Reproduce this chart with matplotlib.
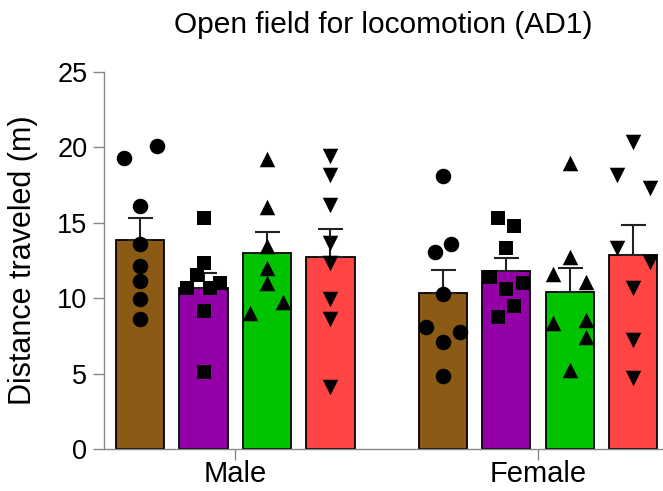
import numpy as np
import matplotlib
matplotlib.use("Agg")
import matplotlib.pyplot as plt

plt.rcParams['font.family'] = ['Liberation Sans', 'DejaVu Sans']

# Groups and bars
groups = ['Male', 'Female']
bar_colors = ['#8B5A14', '#9300A8', '#00C400', '#FF4444']
markers = ['o', 's', '^', 'v']

# bar heights (mean) and error (SEM) per group, in bar order
means = {
    'Male': [13.86, 10.68, 12.98, 12.71],
    'Female': [10.32, 11.80, 10.43, 12.86],
}
sems = {
    'Male': [1.48, 1.01, 1.43, 1.86],
    'Female': [1.55, 0.89, 1.55, 1.99],
}

# individual animals (m)
points = {
    'Male': [
        [19.32, 20.11, 16.13, 13.57, 12.16, 11.14, 9.93, 8.60],
        [15.30, 12.35, 11.54, 10.66, 10.66, 10.99, 9.15, 5.09],
        [19.21, 16.02, 13.46, 11.98, 11.03, 9.77, 9.00],
        [19.43, 18.17, 16.18, 13.68, 12.31, 9.95, 8.62, 4.13],
    ],
    'Female': [
        [18.13, 13.59, 13.08, 10.28, 8.11, 7.78, 7.07, 4.86],
        [15.30, 14.79, 13.31, 11.39, 10.59, 10.99, 9.48, 8.77],
        [18.94, 12.71, 11.60, 11.10, 8.38, 8.55, 7.45, 5.24],
        [20.38, 18.17, 17.29, 13.31, 12.42, 10.66, 7.23, 4.69],
    ],
}
# horizontal scatter of the dots inside each bar (fraction of bar pitch)
spread = {
    'Male': [
        [-0.26, 0.26, 0, 0, 0, 0, 0, 0],
        [0, 0, -0.1, -0.26, 0.1, 0.26, 0, 0],
        [0, 0, 0, 0, 0, 0.26, -0.26],
        [0, 0, 0, 0, 0, 0, 0, 0],
    ],
    'Female': [
        [0, 0.13, -0.13, 0, -0.26, 0.27, 0, 0],
        [-0.13, 0.13, 0, -0.26, 0, 0.26, 0.13, -0.13],
        [0, 0, -0.26, 0.26, -0.26, 0.26, 0.26, 0],
        [0, -0.26, 0.26, -0.26, 0.26, 0, 0, 0],
    ],
}

group_start = {'Male': 0.0, 'Female': 4.77}
bar_width = 0.76

fig = plt.figure(figsize=(6.63, 4.91), dpi=100)
ax = fig.add_axes([0.157, 0.0855, 0.843, 0.768])

for g in groups:
    for i in range(4):
        x = group_start[g] + i
        ax.bar(x, means[g][i], width=bar_width, color=bar_colors[i],
               edgecolor='black', linewidth=1.3, zorder=2)
        ax.errorbar(x, means[g][i], yerr=[[0], [sems[g][i]]], fmt='none',
                    ecolor='#222222', elinewidth=1.5, capsize=9, capthick=1.5, zorder=3)
        xs = x + np.array(spread[g][i])
        size = 125 if markers[i] != 's' else 100
        ax.scatter(xs, points[g][i], marker=markers[i], s=size, color='black',
                   linewidths=0, zorder=4)

ax.set_ylim(0, 25)
ax.set_yticks([0, 5, 10, 15, 20, 25])
ax.set_xlim(-0.567, 8.24)
ax.set_xticks([group_start[g] + 1.5 for g in groups])
ax.set_xticklabels(groups, fontsize=21)
ax.tick_params(axis='y', labelsize=19.5, length=8, width=1, color='#888888', pad=4)
ax.tick_params(axis='x', length=8, width=1, color='#888888', pad=0)

for side in ['top', 'right']:
    ax.spines[side].set_visible(False)
for side in ['left', 'bottom']:
    ax.spines[side].set_color('#888888')
    ax.spines[side].set_linewidth(1)

ax.set_ylabel('Distance traveled (m)', fontsize=22, labelpad=14)
ax.set_title('Open field for locomotion (AD1)', fontsize=21.5, pad=28)

fig.savefig('out.png', dpi=100)
